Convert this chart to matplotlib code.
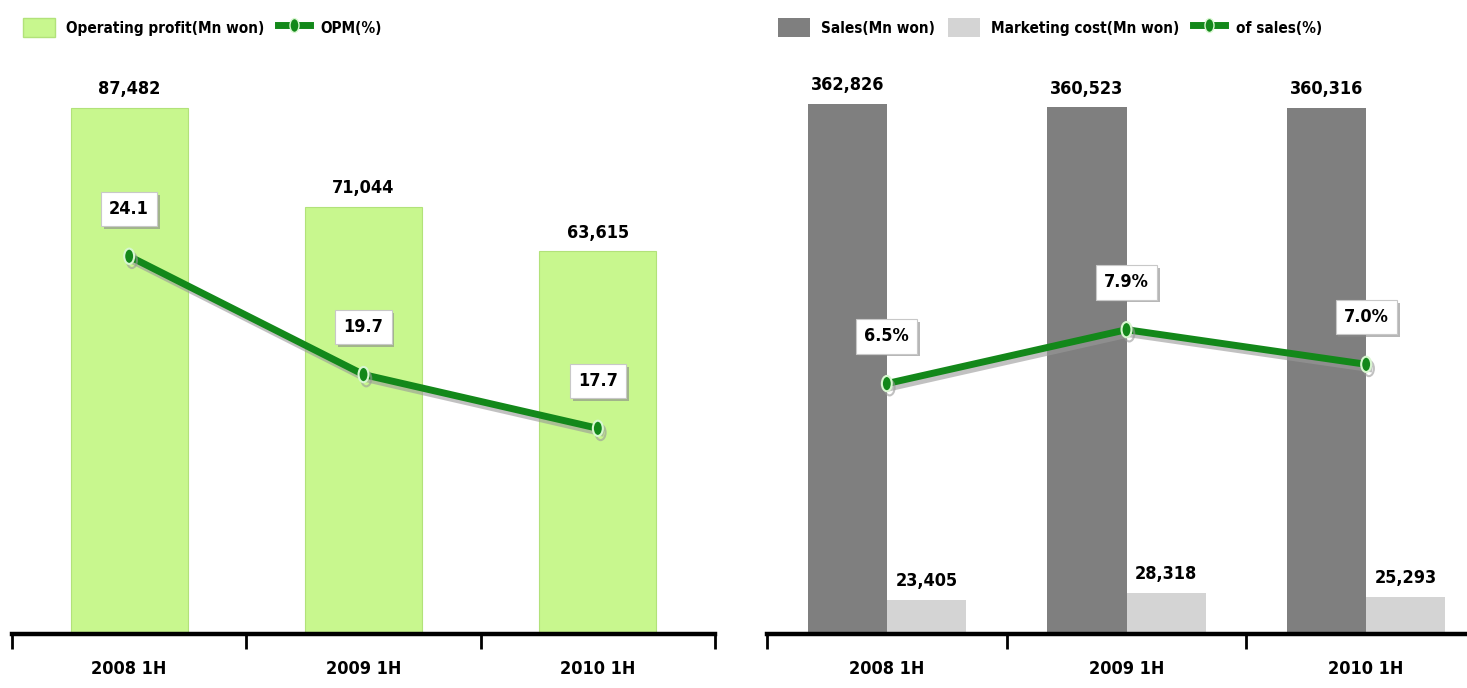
import matplotlib
matplotlib.use('Agg')
import matplotlib.pyplot as plt
import matplotlib.patheffects as pe
from matplotlib.patches import Patch
from matplotlib.lines import Line2D
from matplotlib.markers import MarkerStyle
from matplotlib.transforms import Affine2D

plt.rcParams['font.family'] = ['DejaVu Sans']
plt.rcParams['font.weight'] = 'bold'
plt.rcParams['font.stretch'] = 'condensed'

# data
periods = ['2008 1H', '2009 1H', '2010 1H']
op_profit = [87482, 71044, 63615]
opm = [24.1, 19.7, 17.7]
sales = [362826, 360523, 360316]
mkt_cost = [23405, 28318, 25293]
mkt_pct = [6.5, 7.9, 7.0]

GREEN_BAR = '#c8f78e'
DARK_GRAY = '#7f7f7f'
LIGHT_GRAY = '#d4d4d4'
LINE_GREEN = '#13881a'

W, H = 1467, 688
fig = plt.figure(figsize=(W / 100, H / 100), dpi=100)

def px_axes(x0, x1, ytop, ybot):
    return fig.add_axes([x0 / W, 1 - ybot / H, (x1 - x0) / W, (ybot - ytop) / H])

ell = MarkerStyle('o', transform=Affine2D().scale(0.65, 1.0))
line_fx = [pe.SimpleLineShadow(offset=(2, -3), shadow_color='#999999', alpha=0.6), pe.Normal()]

def style_base(ax):
    for s in ['top', 'left', 'right']:
        ax.spines[s].set_visible(False)
    ax.spines['bottom'].set_linewidth(3.2)
    ax.spines['bottom'].set_color('black')
    ax.set_yticks([])
    ax.set_xticks(range(len(periods)))
    ax.set_xticklabels(periods, fontsize=13)
    ax.set_xticks([-0.5, 0.5, 1.5, 2.5], minor=True)
    ax.tick_params(axis='x', which='major', length=0, pad=19)
    ax.tick_params(axis='x', which='minor', length=11, width=2, direction='out', color='black')
    ax.set_xlim(-0.5, 2.5)

def pct_line(ax2, vals, fmt):
    ax2.plot(range(len(vals)), vals, color=LINE_GREEN, lw=5, marker=ell, ms=11,
             mfc=LINE_GREEN, mec='#d8f7d0', mew=1.5, path_effects=line_fx, zorder=5)
    for i, v in enumerate(vals):
        t = ax2.annotate(fmt.format(v), (i, v), xytext=(0, 34), textcoords='offset points',
                         ha='center', va='center', fontsize=13,
                         bbox=dict(boxstyle='square,pad=0.45', fc='white', ec='#c8c8c8', lw=0.8))
        t.get_bbox_patch().set_path_effects([pe.withSimplePatchShadow(offset=(2, -2), shadow_rgbFace='#888888', alpha=0.6)])
    ax2.set_yticks([])
    for s in ax2.spines.values():
        s.set_visible(False)

# left chart
ax = px_axes(12, 715, 60, 634)
style_base(ax)
ax.bar(range(3), op_profit, width=0.5, color=GREEN_BAR, edgecolor='#b2e27a', lw=0.8)
ax.set_ylim(0, 95463)
for i, v in enumerate(op_profit):
    ax.annotate(f'{v:,}', (i, v), xytext=(0, 7), textcoords='offset points',
                ha='center', va='bottom', fontsize=13)
ax2 = ax.twinx()
ax2.set_ylim(10.05, 31.4)
pct_line(ax2, opm, '{:.1f}')

lh1 = [Patch(fc=GREEN_BAR, ec='#b2e27a'),
       Line2D([], [], color=LINE_GREEN, lw=5, marker=ell, ms=10, mfc=LINE_GREEN, mec='#d8f7d0')]
fig.legend(lh1, ['Operating profit(Mn won)', 'OPM(%)'], loc='upper left',
           bbox_to_anchor=(9 / W, 1 - 4 / H), ncol=2, frameon=False, fontsize=11,
           handlelength=2.1, handleheight=1.6, columnspacing=0.9, handletextpad=0.7)

# right chart
ax = px_axes(767, 1486, 60, 634)
style_base(ax)
bw = 0.33
xs = range(3)
ax.bar([x - bw / 2 for x in xs], sales, width=bw, color=DARK_GRAY)
ax.bar([x + bw / 2 for x in xs], mkt_cost, width=bw, color=LIGHT_GRAY)
ax.set_ylim(0, 392940)
for i, v in enumerate(sales):
    ax.annotate(f'{v:,}', (i - bw / 2, v), xytext=(0, 7), textcoords='offset points',
                ha='center', va='bottom', fontsize=13)
for i, v in enumerate(mkt_cost):
    ax.annotate(f'{v:,}', (i + bw / 2, v), xytext=(0, 7), textcoords='offset points',
                ha='center', va='bottom', fontsize=13)
ax2 = ax.twinx()
ax2.set_ylim(0, 14.9)
pct_line(ax2, mkt_pct, '{:.1f}%')

lh2 = [Patch(fc=DARK_GRAY), Patch(fc=LIGHT_GRAY),
       Line2D([], [], color=LINE_GREEN, lw=5, marker=ell, ms=10, mfc=LINE_GREEN, mec='#d8f7d0')]
fig.legend(lh2, ['Sales(Mn won)', 'Marketing cost(Mn won)', 'of sales(%)'], loc='upper left',
           bbox_to_anchor=(764 / W, 1 - 4 / H), ncol=3, frameon=False, fontsize=11,
           handlelength=2.1, handleheight=1.6, columnspacing=0.9, handletextpad=0.7)

fig.savefig('out.png', dpi=100)
